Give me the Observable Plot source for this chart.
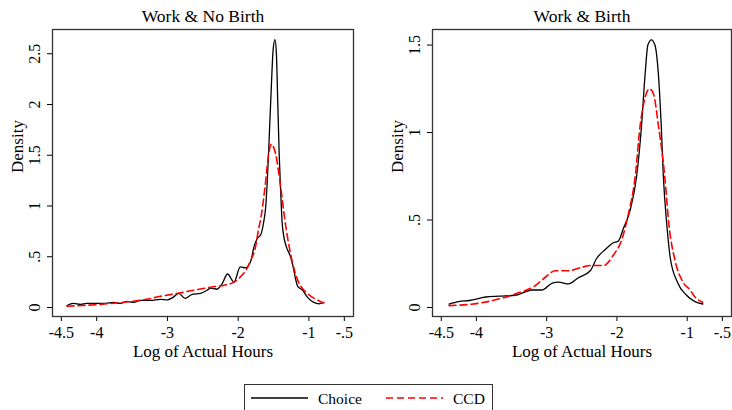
<!DOCTYPE html>
<html>
<head>
<meta charset="utf-8">
<script src="https://cdn.jsdelivr.net/npm/d3@7"></script>
<script src="https://cdn.jsdelivr.net/npm/@observablehq/plot@0.6"></script>
<style>
  html, body { margin: 0; padding: 0; background: #fff; }
  #wrap { position: relative; width: 732px; height: 410px; overflow: hidden; font-family: "Liberation Serif", "DejaVu Serif", serif; }
  #panels { display: flex; }
  #legend { position: absolute; left: 244px; top: 384px; width: 249px; height: 34px; border: 1px solid #333; box-sizing: border-box; }
</style>
</head>
<body>
<div id="wrap">
  <div id="panels"></div>
  <div id="legend"></div>
</div>
<script>
// ---- Data ----
const titles = ["Work & No Birth", "Work & Birth"];
const xLabel = "Log of Actual Hours";
const yLabel = "Density";
const seriesNames = ["Choice", "CCD"];
const xTicks = [-4.5, -4, -3, -2, -1, -0.5];
const yTicksNoBirth = [0, 0.5, 1, 1.5, 2, 2.5];
const yTicksBirth = [0, 0.5, 1, 1.5];

// Work & No Birth: Choice
const noBirthChoiceX = [-4.42,-4.33,-4.23,-4.14,-4.04,-3.90,-3.76,-3.67,-3.57,-3.48,-3.38,-3.24,-3.10,-3.00,-2.92,-2.84,-2.75,-2.65,-2.53,-2.44,-2.39,-2.30,-2.23,-2.15,-2.06,-1.97,-1.90,-1.82,-1.78,-1.73,-1.68,-1.64,-1.61,-1.585,-1.56,-1.53,-1.505,-1.48,-1.46,-1.44,-1.42,-1.40,-1.38,-1.36,-1.32,-1.26,-1.23,-1.16,-1.09,-1.02,-0.93,-0.86,-0.79];
const noBirthChoiceY = [0.02,0.04,0.03,0.04,0.04,0.04,0.05,0.04,0.06,0.05,0.07,0.07,0.08,0.076,0.10,0.14,0.09,0.13,0.14,0.17,0.19,0.18,0.23,0.33,0.25,0.40,0.39,0.46,0.59,0.68,0.72,0.84,1.0,1.3,1.7,2.2,2.55,2.64,2.5,2.0,1.5,1.15,0.85,0.72,0.60,0.50,0.42,0.21,0.17,0.10,0.05,0.036,0.05];
// Work & No Birth: CCD
const noBirthCcdX = [-4.42,-4.2,-4.0,-3.8,-3.57,-3.3,-3.1,-2.85,-2.63,-2.39,-2.2,-2.06,-1.97,-1.88,-1.82,-1.76,-1.71,-1.68,-1.62,-1.57,-1.53,-1.50,-1.47,-1.40,-1.34,-1.26,-1.16,-1.07,-0.97,-0.90,-0.79];
const noBirthCcdY = [0.013,0.02,0.028,0.04,0.055,0.08,0.11,0.14,0.17,0.20,0.22,0.25,0.30,0.38,0.47,0.58,0.78,0.88,1.19,1.51,1.61,1.58,1.51,1.19,0.86,0.53,0.27,0.17,0.11,0.08,0.045];

// Work & Birth: Choice
const birthChoiceX = [-4.39,-4.25,-4.10,-3.87,-3.68,-3.44,-3.21,-3.07,-2.92,-2.83,-2.69,-2.55,-2.38,-2.29,-2.17,-2.05,-1.98,-1.91,-1.81,-1.72,-1.65,-1.60,-1.56,-1.51,-1.46,-1.41,-1.37,-1.34,-1.29,-1.24,-1.14,-1.01,-0.89,-0.78];
const birthChoiceY = [0.02,0.034,0.04,0.06,0.065,0.07,0.10,0.10,0.14,0.145,0.135,0.17,0.21,0.28,0.33,0.37,0.38,0.45,0.56,0.75,1.04,1.33,1.50,1.53,1.50,1.33,1.04,0.75,0.47,0.28,0.145,0.07,0.034,0.02];
// Work & Birth: CCD
const birthCcdX = [-4.39,-3.96,-3.73,-3.44,-3.16,-3.02,-2.88,-2.69,-2.50,-2.38,-2.19,-2.05,-1.93,-1.84,-1.74,-1.67,-1.60,-1.54,-1.48,-1.41,-1.32,-1.26,-1.18,-1.06,-0.96,-0.89,-0.78];
const birthCcdY = [0.011,0.025,0.044,0.078,0.126,0.173,0.21,0.21,0.23,0.24,0.24,0.30,0.39,0.53,0.75,1.04,1.20,1.25,1.22,1.04,0.75,0.47,0.28,0.145,0.10,0.06,0.03];

const xDomain = [-4.625, -0.37];
const yDomains = [[-0.0887, 2.739], [-0.0514, 1.589]];

// ---- Helpers ----
const zip = (xs, ys) => xs.map((x, i) => ({x, y: ys[i]}));
const fmt = d => String(d).replace(/^(-?)0\./, "$1.");
const FONT = "Liberation Serif";

function panel(title, choice, ccd, yTicks, yDomain, marginLeft, marginRight) {
  return Plot.plot({
    width: 366,
    height: 370,
    marginLeft,
    marginRight,
    marginTop: 29,
    marginBottom: 54,
    style: {fontFamily: FONT, fontSize: "16px", color: "#000", background: "#fff", overflow: "visible"},
    x: {domain: xDomain},
    y: {domain: yDomain},
    marks: [
      Plot.axisX({ticks: xTicks, tickFormat: fmt, tickSize: 5, tickPadding: 5, fontSize: 16, label: null}),
      Plot.axisY({ticks: yTicks, tickFormat: fmt, tickSize: 5, tickPadding: 8, tickRotate: -90, fontSize: 16, label: null}),
      Plot.text([xLabel], {frameAnchor: "bottom", lineAnchor: "bottom", dy: 40, fontSize: 17, fill: "#000"}),
      Plot.text([yLabel], {frameAnchor: "left", lineAnchor: "top", rotate: -90, dx: -42, fontSize: 17, fill: "#000"}),
      Plot.line(choice, {x: "x", y: "y", stroke: "#000", strokeWidth: 1.3, curve: "monotone-x"}),
      Plot.line(ccd, {x: "x", y: "y", stroke: "#ff0000", strokeWidth: 1.6, strokeDasharray: "7,4", curve: "monotone-x"}),
      Plot.frame({stroke: "#333", strokeWidth: 1.3}),
      Plot.text([title], {frameAnchor: "top", lineAnchor: "bottom", dy: -8, fontSize: 17.5, fill: "#000"})
    ]
  });
}

const panels = document.getElementById("panels");
panels.append(panel(titles[0], zip(noBirthChoiceX, noBirthChoiceY), zip(noBirthCcdX, noBirthCcdY), yTicksNoBirth, yDomains[0], 52, 13));
panels.append(panel(titles[1], zip(birthChoiceX, birthChoiceY), zip(birthCcdX, birthCcdY), yTicksBirth, yDomains[1], 66, 1));

// ---- Legend ----
const ns = "http://www.w3.org/2000/svg";
const lg = document.createElementNS(ns, "svg");
lg.setAttribute("width", 247);
lg.setAttribute("height", 32);
lg.style.display = "block";
const items = [
  {name: seriesNames[0], x1: 6, x2: 63, tx: 73, stroke: "#000", dash: null, sw: 1.3},
  {name: seriesNames[1], x1: 141, x2: 198, tx: 208, stroke: "#ff0000", dash: "7,4", sw: 1.6}
];
for (const it of items) {
  const l = document.createElementNS(ns, "line");
  l.setAttribute("x1", it.x1); l.setAttribute("x2", it.x2);
  l.setAttribute("y1", 13); l.setAttribute("y2", 13);
  l.setAttribute("stroke", it.stroke); l.setAttribute("stroke-width", it.sw);
  if (it.dash) l.setAttribute("stroke-dasharray", it.dash);
  lg.append(l);
  const t = document.createElementNS(ns, "text");
  t.setAttribute("x", it.tx); t.setAttribute("y", 18.5);
  t.setAttribute("font-family", FONT); t.setAttribute("font-size", 15.5);
  t.textContent = it.name;
  lg.append(t);
}
document.getElementById("legend").append(lg);
</script>
</body>
</html>
